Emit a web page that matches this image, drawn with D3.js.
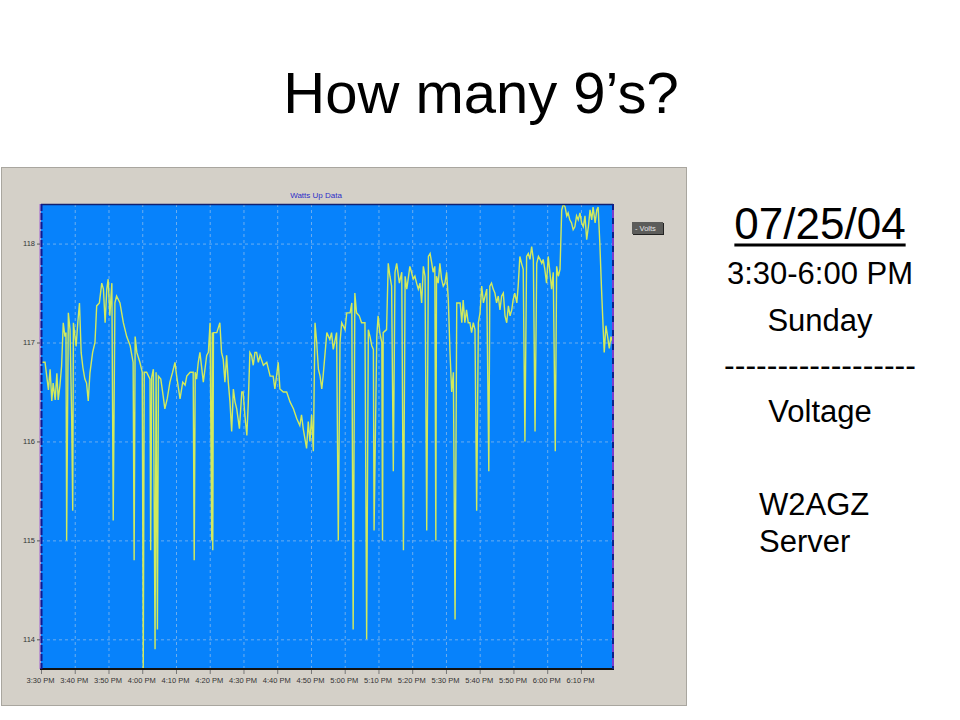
<!DOCTYPE html>
<html><head><meta charset="utf-8">
<script src="https://cdn.jsdelivr.net/npm/d3@7"></script>
<style>html,body{margin:0;padding:0;background:#fff}svg{display:block}</style>
</head><body>
<svg id="c" width="960" height="720"></svg>
<script>
// ---------- data ----------
const slideTitle = "How many 9\u2019s?";
const chartTitle = "Watts Up Data";
const seriesName = "Volts";
const xTickLabels = ["3:30 PM","3:40 PM","3:50 PM","4:00 PM","4:10 PM","4:20 PM","4:30 PM","4:40 PM","4:50 PM","5:00 PM","5:10 PM","5:20 PM","5:30 PM","5:40 PM","5:50 PM","6:00 PM","6:10 PM"];
const xTickMinutes = [0,10,20,30,40,50,60,70,80,90,100,110,120,130,140,150,160];
const yTicks = [114,115,116,117,118];
const xDomain = [0,169.5];      // minutes after 3:30 PM
const yDomain = [113.7,118.4];  // volts
const sideNotes = ["07/25/04","3:30-6:00 PM","Sunday","------------------","Voltage"];
const serverNotes = ["W2AGZ","Server"];

// minutes after 3:30 PM
const minutes = [
0.2,1.2,1.7,2.2,2.7,3.2,3.6,4.2,4.7,5.1,
5.6,6.1,6.6,7.1,7.4,7.6,8.1,8.6,9.1,9.4,
9.6,10.4,10.9,11.4,11.9,12.4,13.0,13.5,14.0,14.5,
15.3,16.0,16.5,17.3,18.0,18.5,19.0,19.5,19.9,20.4,
21.0,21.4,21.9,22.4,23.4,24.4,25.4,26.4,27.3,27.6,
27.9,28.4,29.3,30.0,30.3,30.6,31.3,32.3,32.5,32.8,
33.3,33.8,34.1,34.5,34.8,35.5,36.2,36.7,37.4,38.2,
39.0,39.7,40.2,41.2,42.0,42.7,43.2,44.2,45.1,45.4,
45.7,46.1,46.6,47.1,48.1,49.1,49.6,50.1,50.6,50.75,
50.9,51.1,52.1,53.0,53.5,54.0,54.5,55.0,55.5,56.0,
56.5,57.0,57.5,58.0,58.8,59.5,59.9,60.4,61.0,61.4,
61.9,62.4,62.9,63.4,63.9,64.4,64.9,65.9,66.9,67.9,
68.8,69.3,69.8,70.3,70.8,71.8,72.8,73.8,74.8,75.8,
76.7,77.2,77.7,78.7,79.2,79.7,80.2,80.7,81.2,81.7,
82.2,82.7,83.2,83.6,84.2,84.7,85.6,86.1,86.6,87.6,
88.1,88.6,89.1,90.1,90.6,91.6,92.1,92.5,93.0,93.5,
94.3,95.0,96.0,96.5,97.0,97.5,98.0,98.5,98.7,99.5,
99.9,100.4,101.0,101.2,101.4,102.4,102.9,103.4,103.9,104.4,
104.9,105.4,106.2,106.9,107.4,107.9,108.4,108.8,109.3,109.8,
110.3,110.8,111.3,111.8,112.3,112.8,113.3,113.8,114.3,114.8,
115.3,115.8,116.2,116.7,117.0,117.2,117.7,118.2,118.7,119.2,
119.7,120.2,120.7,121.2,121.7,122.2,122.7,123.2,124.2,124.7,
125.1,125.6,126.1,126.6,127.1,127.6,128.1,128.6,129.1,129.6,
130.1,130.6,131.1,132.1,132.7,133.0,133.5,134.0,134.5,135.0,
135.5,136.0,136.5,137.0,137.5,138.0,138.5,139.0,139.5,139.9,
140.4,141.0,141.4,141.9,142.4,142.9,143.4,143.9,144.4,144.9,
145.4,145.9,146.4,146.9,147.4,147.9,148.4,148.8,149.3,149.8,
150.3,150.8,151.3,151.8,152.4,152.8,153.3,153.8,154.3,154.8,
155.3,155.8,156.2,156.7,157.2,157.7,158.2,158.7,159.2,159.7,
160.2,160.7,161.2,161.7,162.2,162.7,163.2,163.6,164.2,164.7,
165.1,165.6,166.1,166.6,166.9,167.4,167.9,168.4,168.9,169.4
];
const volts = [
116.80,116.80,116.66,116.52,116.73,116.41,116.59,116.42,116.69,116.42,
116.56,116.76,117.20,117.06,117.10,115.00,117.30,117.13,116.22,115.30,
117.20,116.96,117.20,117.40,116.90,116.75,116.63,116.59,116.41,116.69,
116.90,117.00,117.37,117.40,117.60,117.54,117.20,117.54,117.64,117.27,
117.60,115.20,117.40,117.47,117.40,117.20,117.06,116.97,116.80,114.80,
117.06,116.90,116.80,116.70,113.70,116.70,116.70,116.63,114.90,116.65,
116.73,113.90,116.70,114.10,116.66,116.63,116.46,116.33,116.43,116.60,
116.70,116.80,116.66,116.43,116.60,116.57,116.66,116.70,116.70,114.80,
116.70,116.63,116.80,116.90,116.60,116.87,116.90,117.20,115.00,117.10,
114.90,117.10,117.10,117.20,116.90,116.83,116.60,116.87,116.60,116.40,
116.10,116.53,116.40,116.33,116.13,116.50,116.50,116.27,116.06,116.37,
116.90,116.87,116.77,116.90,116.90,116.80,116.87,116.77,116.80,116.66,
116.66,116.53,116.66,116.80,116.53,116.50,116.50,116.40,116.33,116.23,
116.16,116.27,116.13,115.93,116.20,116.00,116.27,115.90,117.20,117.00,
116.73,116.66,116.53,116.66,116.90,117.10,117.03,117.10,116.93,117.10,
115.00,117.00,117.20,117.13,117.30,117.30,117.40,114.10,117.50,117.30,
117.27,117.20,117.20,114.00,117.13,117.06,116.97,116.93,115.10,117.06,
117.27,117.10,117.00,115.00,117.10,117.13,117.80,117.67,117.57,115.70,
117.71,117.80,117.60,117.71,114.90,117.67,117.54,117.64,117.77,117.71,
117.64,117.67,117.60,117.54,117.60,117.40,117.77,117.67,115.10,117.87,
117.90,117.80,117.71,117.77,115.00,117.67,117.60,117.80,117.64,117.57,
117.60,117.71,117.43,116.90,116.50,116.70,114.20,117.40,117.40,117.20,
117.43,117.20,117.33,117.20,117.20,117.10,117.20,117.13,115.30,117.20,
117.30,117.57,117.40,117.54,115.70,117.57,117.60,117.54,117.50,117.40,
117.47,117.33,117.47,117.50,117.27,117.20,117.37,117.27,117.33,117.43,
117.50,117.40,117.57,117.87,117.80,117.74,116.00,117.87,117.90,117.84,
117.97,117.84,116.10,117.80,117.87,117.84,117.80,117.84,117.74,117.60,
117.87,117.71,117.54,117.71,115.90,117.77,117.67,117.74,118.34,118.40,
118.37,118.28,118.31,118.24,118.21,118.14,118.17,118.28,118.24,118.31,
118.21,118.17,118.28,118.04,118.17,118.34,118.24,118.37,118.21,118.34,
118.37,118.00,117.54,117.13,116.90,117.17,117.06,116.94,117.06,117.00
];

// ---------- drawing ----------
const FONT = "'Liberation Sans', Arial, Helvetica, sans-serif";
const svg = d3.select("#c");
svg.append("rect").attr("width",960).attr("height",720).attr("fill","#ffffff");

// slide title
svg.append("text").attr("x",481).attr("y",113).attr("text-anchor","middle")
  .attr("font-family",FONT).attr("font-size",58).attr("fill","#000").text(slideTitle);

// gray chart panel
svg.append("rect").attr("x",1.5).attr("y",167.5).attr("width",685).attr("height",538)
  .attr("fill","#d4d0c8").attr("stroke","#a9a69f").attr("stroke-width",1);

const plot = {left:41, right:613, top:204, bottom:669};
const x = d3.scaleLinear().domain(xDomain).range([plot.left, plot.right]);
const y = d3.scaleLinear().domain(yDomain).range([plot.bottom, plot.top]);

// chart title
svg.append("text").attr("x",316).attr("y",197.5).attr("text-anchor","middle")
  .attr("font-family",FONT).attr("font-size",8).attr("fill","#2d2dc8").text(chartTitle);

// plot background
svg.append("rect").attr("x",plot.left).attr("y",plot.top)
  .attr("width",plot.right-plot.left).attr("height",plot.bottom-plot.top).attr("fill","#0782fb");

// grid (via axes)
const gx = svg.append("g").attr("transform",`translate(0,${plot.bottom})`)
  .call(d3.axisBottom(x).tickValues(xTickMinutes.slice(1)).tickSize(-(plot.bottom-plot.top)).tickFormat(""));
gx.select(".domain").remove();
gx.selectAll("line").attr("stroke","#86b9ec").attr("stroke-dasharray","3,3").attr("stroke-width",0.8);
const gy = svg.append("g").attr("transform",`translate(${plot.left},0)`)
  .call(d3.axisLeft(y).tickValues(yTicks).tickSize(-(plot.right-plot.left)).tickFormat(""));
gy.select(".domain").remove();
gy.selectAll("line").attr("stroke","#86b9ec").attr("stroke-dasharray","3,3").attr("stroke-width",0.8);

// clip and line
svg.append("clipPath").attr("id","pc").append("rect")
  .attr("x",plot.left).attr("y",plot.top).attr("width",plot.right-plot.left).attr("height",plot.bottom-plot.top);
const pts = d3.zip(minutes, volts);
const line = d3.line().x(d=>x(d[0])).y(d=>y(d[1]));
svg.append("path").datum(pts).attr("clip-path","url(#pc)")
  .attr("d",line).attr("fill","none").attr("stroke","#d2ea5c").attr("stroke-width",1.4)
  .attr("stroke-linejoin","miter");

// frame edges
svg.append("line").attr("x1",plot.left).attr("x2",plot.right).attr("y1",plot.top+0.5).attr("y2",plot.top+0.5)
  .attr("stroke","#102070").attr("stroke-width",1.5);
svg.append("line").attr("x1",plot.left-1).attr("x2",plot.right+1).attr("y1",plot.bottom).attr("y2",plot.bottom)
  .attr("stroke","#111111").attr("stroke-width",2);
svg.append("line").attr("x1",plot.left-1).attr("x2",plot.left-1).attr("y1",plot.top).attr("y2",plot.bottom)
  .attr("stroke","#a060d0").attr("stroke-width",1);
svg.append("line").attr("x1",plot.left+0.5).attr("x2",plot.left+0.5).attr("y1",plot.top).attr("y2",plot.bottom)
  .attr("stroke","#101890").attr("stroke-width",2).attr("stroke-dasharray","7,2");
svg.append("line").attr("x1",plot.right).attr("x2",plot.right).attr("y1",plot.top).attr("y2",plot.bottom)
  .attr("stroke","#7a3cd0").attr("stroke-width",2);
svg.append("line").attr("x1",plot.right).attr("x2",plot.right).attr("y1",plot.top).attr("y2",plot.bottom)
  .attr("stroke","#10208a").attr("stroke-width",2).attr("stroke-dasharray","6,8");

// y axis labels
const ay = svg.append("g").attr("transform",`translate(${plot.left-1},0)`)
  .call(d3.axisLeft(y).tickValues(yTicks).tickSize(3).tickPadding(2).tickFormat(d3.format("d")));
ay.select(".domain").remove();
ay.selectAll("line").attr("stroke","#555");
ay.selectAll("text").attr("font-family",FONT).attr("font-size",7.5).attr("fill","#333");

// x axis labels
const ax = svg.append("g").attr("transform",`translate(0,${plot.bottom+1})`)
  .call(d3.axisBottom(x).tickValues(xTickMinutes).tickSize(4).tickPadding(4)
  .tickFormat((d,i)=>xTickLabels[i]));
ax.select(".domain").remove();
ax.selectAll("line").attr("stroke","#777");
ax.selectAll("text").attr("font-family",FONT).attr("font-size",7.5).attr("fill","#333").attr("dx",-1);

// legend
svg.append("rect").attr("x",633).attr("y",223).attr("width",31).attr("height",12).attr("fill","#222");
svg.append("rect").attr("x",632).attr("y",222).attr("width",31).attr("height",12).attr("fill","#5c5c5a");
svg.append("text").attr("x",635).attr("y",231).attr("font-family",FONT).attr("font-size",7.5)
  .attr("fill","#e4e4e4").text("- " + seriesName);

// right side notes
const noteY = [239, 284, 331, 376, 422];
const noteSize = [44, 31, 31, 32, 31];
sideNotes.forEach((t,i)=>{
  const tx = svg.append("text").attr("x",820).attr("y",noteY[i]).attr("text-anchor","middle")
    .attr("font-family",FONT).attr("font-size",noteSize[i]).attr("fill","#000").text(t);
  if(i===0){
    const w = tx.node().getComputedTextLength();
    svg.append("line").attr("x1",820-w/2).attr("x2",820+w/2).attr("y1",245).attr("y2",245)
      .attr("stroke","#000").attr("stroke-width",3);
  }
});
const servY = [515, 552];
serverNotes.forEach((t,i)=>{
  svg.append("text").attr("x",759).attr("y",servY[i]).attr("font-family",FONT)
    .attr("font-size",31).attr("fill","#000").text(t);
});
</script>
</body></html>
